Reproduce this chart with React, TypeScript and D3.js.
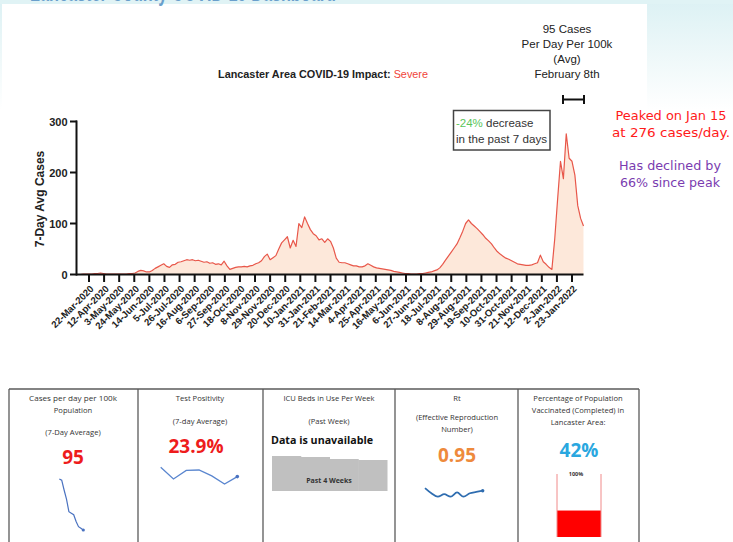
import React from "react";
import * as d3 from "d3";

// ---------- data ----------
const seriesStart = new Date(2020, 2, 6);
const seriesStepDays = 4;
const casesAvg = [
  0, 0, 1, 1, 1, 1, 2, 2, 3, 2,
  1, 1, 1, 1, 1, 1, 1, 1, 2, 2,
  3, 6, 8, 7, 5, 5, 8, 12, 15, 18,
  21, 16, 14, 19, 20, 24, 25, 27, 29, 28,
  29, 27, 28, 26, 24, 25, 22, 23, 20, 21,
  19, 26, 17, 10, 12, 14, 15, 15, 16, 15,
  17, 18, 21, 23, 27, 35, 40, 29, 33, 37,
  50, 62, 68, 74, 52, 67, 55, 100, 92, 113,
  100, 88, 80, 76, 68, 70, 63, 70, 65, 52,
  32, 24, 23, 23, 21, 19, 17, 17, 15, 15,
  17, 21, 18, 15, 13, 12, 11, 10, 9, 8,
  6, 5, 4, 3, 2, 2, 1, 1, 1, 2,
  2, 3, 4, 5, 7, 9, 13, 20, 28, 36,
  44, 52, 60, 72, 85, 100, 107, 100, 95, 90,
  84, 78, 71, 66, 60, 52, 45, 40, 36, 32,
  30, 27, 24, 21, 20, 19, 18, 18, 19, 21,
  23, 38, 25, 20, 14, 10, 70, 148, 222, 188,
  276, 228, 222, 195, 135, 110, 95,
];
const tickStart = new Date(2020, 2, 22);
const tickStepDays = 21;
const tickCount = 33;
const yTicks = [0, 100, 200, 300];

const sparkCases = [262, 258, 226, 196, 155, 150, 145, 123, 106, 101, 95];
const sparkPositivity = [26.3, 23.3, 25.5, 25.6, 24.1, 22.0, 23.9];
const sparkRt = [0.98, 0.92, 0.88, 0.91, 0.88, 0.93, 0.88, 0.92, 0.935, 0.95];
const icuWeeks = [35, 34, 32, 31];
const vaccinatedPct = 42;

const panelEdges = [9, 138, 263, 395, 518, 639];

const FONT = "'Liberation Sans', Arial, sans-serif";
const PFONT = "'Open Sans', 'Liberation Sans', sans-serif";
const CFONT = "'Comic Sans MS', 'DejaVu Sans', sans-serif";

export default function App() {
  const dates = casesAvg.map((_, i) => d3.timeDay.offset(seriesStart, i * seriesStepDays));
  const endDate = dates[dates.length - 1];
  const x = d3.scaleTime().domain([seriesStart, endDate]).range([77.5, 583.5]);
  const y = d3.scaleLinear().domain([0, 300]).range([274.5, 121.5]);

  const pts = casesAvg.map((v, i) => [dates[i], v] as [Date, number]);
  const line = d3.line<[Date, number]>().x((d) => x(d[0])).y((d) => y(d[1]));
  const area = d3.area<[Date, number]>().x((d) => x(d[0])).y0(y(0)).y1((d) => y(d[1]));

  const tickDates = d3.range(tickCount).map((k) => d3.timeDay.offset(tickStart, k * tickStepDays));
  const fmt = d3.timeFormat("%-d-%b-%Y");

  // sparklines
  const scx = d3.scaleLinear().domain([0, sparkCases.length - 1]).range([59.3, 83.3]);
  const scy = d3.scaleLinear().domain(d3.extent(sparkCases) as [number, number]).range([530, 479]);
  const casesPath = d3.line<number>().x((_, i) => scx(i)).y((d) => scy(d))(sparkCases);

  const spx = d3.scaleLinear().domain([0, sparkPositivity.length - 1]).range([160.7, 237.3]);
  const spy = d3.scaleLinear().domain(d3.extent(sparkPositivity) as [number, number]).range([484, 467.3]);
  const posPath = d3.line<number>().x((_, i) => spx(i)).y((d) => spy(d))(sparkPositivity);

  const srx = d3.scaleLinear().domain([0, sparkRt.length - 1]).range([425, 482.7]);
  const sry = d3.scaleLinear().domain([0.88, 0.98]).range([496.7, 488.1]);
  const rtPath = d3.line<number>().x((_, i) => srx(i)).y((d) => sry(d)).curve(d3.curveMonotoneX)(sparkRt);

  const icuX = d3.scaleBand<number>().domain(d3.range(icuWeeks.length)).range([272, 387]).padding(0);
  const icuY = d3.scaleLinear().domain([0, 35]).range([491, 456]);

  const vacY = d3.scaleLinear().domain([0, 100]).range([537, 474]);

  const lastC = sparkCases.length - 1;
  const lastP = sparkPositivity.length - 1;
  const lastR = sparkRt.length - 1;

  return (
    <svg
      width={733}
      height={542}
      viewBox="0 0 733 542"
      style={{ position: "absolute", left: 0, top: 0, background: "#fff" }}
    >
      <defs>
        <linearGradient id="bgGrad" x1="0" y1="0" x2="0" y2="1">
          <stop offset="0" stopColor="#dcf1f4" />
          <stop offset="0.5" stopColor="#eef8f9" />
          <stop offset="1" stopColor="#ffffff" />
        </linearGradient>
      </defs>
      {/* slide background */}
      <rect x={0} y={0} width={733} height={542} fill="#ffffff" />
      <rect x={0} y={0} width={733} height={110} fill="url(#bgGrad)" />
      <rect x={0} y={0} width={733} height={4} fill="#e0f3f5" />
      <rect x={2} y={4} width={645} height={380} fill="#ffffff" />
      {/* heading of the slide, cut off at the top edge */}
      <text x={30} y={0.6} fontFamily={FONT} fontWeight="bold" fontSize={26} fill="#6a9fcc" textLength={306} lengthAdjust="spacingAndGlyphs">
        Lancaster County COVID-19 Dashboard
      </text>

      {/* title */}
      <text x={218} y={77.5} fontFamily={FONT} fontWeight="bold" fontSize={11} fill="#222" textLength={210} lengthAdjust="spacingAndGlyphs">
        Lancaster Area COVID-19 Impact: <tspan fill="#f0453a" fontWeight="normal">Severe</tspan>
      </text>

      {/* top-right annotation */}
      <g fontFamily={FONT} fontSize={11.5} fill="#222" textAnchor="middle">
        <text x={567} y={33}>95 Cases</text>
        <text x={567} y={48}>Per Day Per 100k</text>
        <text x={567} y={63}>(Avg)</text>
        <text x={567} y={78}>February 8th</text>
      </g>
      <g stroke="#111" strokeWidth={2}>
        <line x1={563} x2={584} y1={99.5} y2={99.5} />
        <line x1={563} x2={563} y1={95} y2={104} />
        <line x1={584} x2={584} y1={95} y2={104} />
      </g>

      {/* area + line */}
      <path d={area(pts) || ""} fill="#fde6d6" opacity={0.9} />
      <path d={line(pts) || ""} fill="none" stroke="#e8574a" strokeWidth={1.2} strokeLinejoin="round" />

      {/* axes */}
      <g stroke="#111" strokeWidth={2}>
        <line x1={76.5} x2={76.5} y1={120.5} y2={275.5} />
        <line x1={76.5} x2={583.5} y1={274.5} y2={274.5} />
        {yTicks.map((t) => (
          <line key={t} x1={70} x2={77} y1={y(t)} y2={y(t)} />
        ))}
        {tickDates.map((d, k) => (
          <line key={k} x1={x(d)} x2={x(d)} y1={274.5} y2={282} />
        ))}
      </g>
      <g fontFamily={FONT} fontWeight="bold" fontSize={11} fill="#222" textAnchor="end">
        {yTicks.map((t) => (
          <text key={t} x={67.5} y={y(t) + 4}>
            {t}
          </text>
        ))}
      </g>
      <g fontFamily={FONT} fontWeight="bold" fontSize={9.6} fill="#222" textAnchor="end">
        {tickDates.map((d, k) => (
          <text key={k} transform={`translate(${x(d) + 3},${287}) rotate(-45)`} dy="0.35em">
            {fmt(d)}
          </text>
        ))}
      </g>
      <text
        transform="translate(44,199) rotate(-90)"
        fontFamily={FONT}
        fontWeight="bold"
        fontSize={12}
        fill="#222"
        textAnchor="middle"
      >
        7-Day Avg Cases
      </text>

      {/* decrease box */}
      <rect x={453.5} y={110.5} width={96.5} height={39.5} fill="#fff" stroke="#444" strokeWidth={1.5} />
      <g fontFamily={FONT} fontSize={11.5} fill="#333">
        <text x={456} y={127}>
          <tspan fill="#5ac55a">-24%</tspan> decrease
        </text>
        <text x={456} y={142.5} textLength={91} lengthAdjust="spacingAndGlyphs">
          in the past 7 days
        </text>
      </g>

      {/* right notes */}
      <g fontFamily={CFONT} fontSize={13} textAnchor="middle">
        <text x={671} y={120} fill="#ff1a1a" textLength={111} lengthAdjust="spacingAndGlyphs">Peaked on Jan 15</text>
        <text x={671} y={137} fill="#ff1a1a" textLength={118} lengthAdjust="spacingAndGlyphs">at 276 cases/day.</text>
        <text x={670} y={170} fill="#7a3cb0" textLength={102} lengthAdjust="spacingAndGlyphs">Has declined by</text>
        <text x={670} y={187} fill="#7a3cb0" textLength={100} lengthAdjust="spacingAndGlyphs">66% since peak</text>
      </g>

      {/* bottom table */}
      <g stroke="#5a5a5a" strokeWidth={1.3}>
        <line x1={panelEdges[0]} x2={panelEdges[panelEdges.length - 1]} y1={389} y2={389} />
        {panelEdges.map((e) => (
          <line key={e} x1={e} x2={e} y1={389} y2={545} />
        ))}
      </g>
      <g fontFamily={PFONT} fontSize={7.6} fill="#333" textAnchor="middle">
        <text x={73} y={401} textLength={88} lengthAdjust="spacingAndGlyphs">Cases per day per 100k</text>
        <text x={73} y={413}>Population</text>
        <text x={73} y={435}>(7-Day Average)</text>

        <text x={200} y={401}>Test Positivity</text>
        <text x={200} y={424}>(7-day Average)</text>

        <text x={329} y={401}>ICU Beds in Use Per Week</text>
        <text x={329} y={424}>(Past Week)</text>

        <text x={457} y={401}>Rt</text>
        <text x={457} y={420}>(Effective Reproduction</text>
        <text x={457} y={432}>Number)</text>

        <text x={578} y={401}>Percentage of Population</text>
        <text x={578} y={413}>Vaccinated (Completed) in</text>
        <text x={578} y={425}>Lancaster Area:</text>
      </g>
      <g fontFamily={PFONT} fontWeight="bold" textAnchor="middle">
        <text x={73} y={464} fontSize={19} fill="#ee1c1c">95</text>
        <text x={196} y={453} fontSize={19} fill="#ee1c1c">23.9%</text>
        <text x={457} y={462} fontSize={19} fill="#ee8a3c">0.95</text>
        <text x={579} y={457} fontSize={19} fill="#2aa7df">42%</text>
        <text x={322} y={444} fontSize={10} fill="#111" textLength={102} lengthAdjust="spacingAndGlyphs">Data is unavailable</text>
      </g>

      {/* sparklines */}
      <path d={casesPath || ""} fill="none" stroke="#4a72c0" strokeWidth={1.2} />
      <circle cx={scx(lastC)} cy={scy(sparkCases[lastC])} r={1.6} fill="#4a72c0" />
      <path d={posPath || ""} fill="none" stroke="#5a86cf" strokeWidth={1.3} />
      <circle cx={spx(lastP)} cy={spy(sparkPositivity[lastP])} r={1.8} fill="#4a72c0" />
      <path d={rtPath || ""} fill="none" stroke="#2f6db0" strokeWidth={1.8} />
      <circle cx={srx(lastR)} cy={sry(sparkRt[lastR])} r={1.7} fill="#2f6db0" />

      {/* ICU bars */}
      {icuWeeks.map((v, i) => (
        <rect key={i} x={icuX(i)} y={icuY(v)} width={(icuX.bandwidth() || 0) + 0.5} height={icuY(0) - icuY(v)} fill="#c0c0c0" />
      ))}
      <text x={329} y={483} fontFamily={PFONT} fontWeight="bold" fontSize={7} fill="#333" textAnchor="middle">
        Past 4 Weeks
      </text>

      {/* vaccinated gauge */}
      <rect x={557} y={vacY(vaccinatedPct)} width={44} height={vacY(0) - vacY(vaccinatedPct)} fill="#ff0000" />
      <g stroke="#f08a8a" strokeWidth={1}>
        <line x1={557} x2={557} y1={vacY(100)} y2={vacY(0)} />
        <line x1={601} x2={601} y1={vacY(100)} y2={vacY(0)} />
      </g>
      <text x={576} y={476} fontFamily={PFONT} fontWeight="bold" fontSize={5.5} fill="#333" textAnchor="middle">
        100%
      </text>
    </svg>
  );
}
